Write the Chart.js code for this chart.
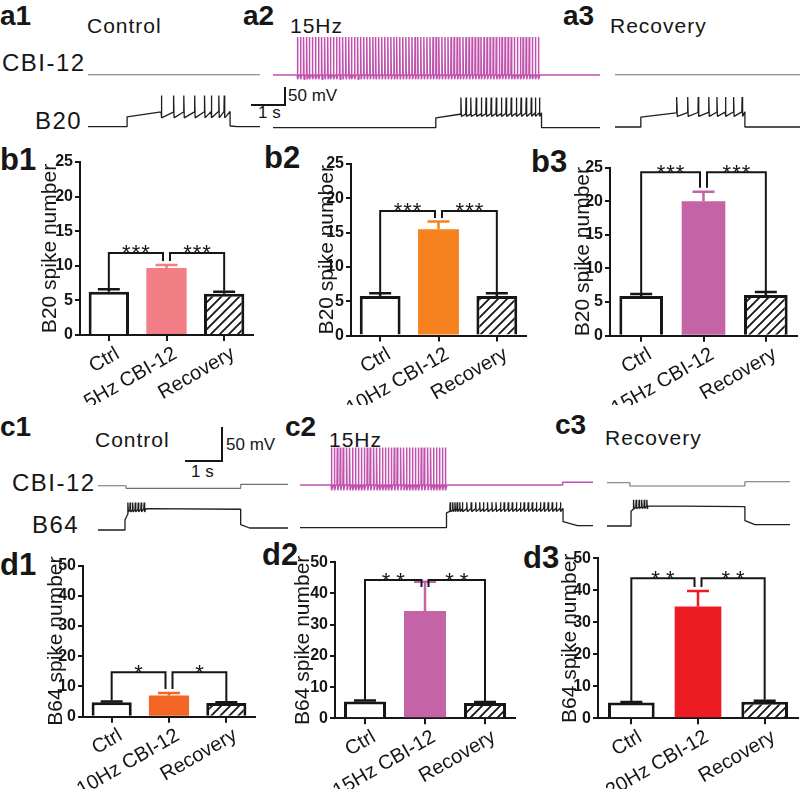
<!DOCTYPE html>
<html>
<head>
<meta charset="utf-8">
<script src="https://cdn.jsdelivr.net/npm/chart.js@4.4.1/dist/chart.umd.min.js"></script>
<style>
  html, body { margin: 0; padding: 0; background: #fff; }
  #fig { position: relative; width: 800px; height: 789px; overflow: hidden; background: #fff; }
  #fig canvas { position: absolute; }
  .t { position: absolute; font-family: 'Liberation Sans', Arial, sans-serif; line-height: 1; white-space: nowrap; color: #161616; }
  .pl { font-weight: bold; }
  .sb { position: absolute; background: #161616; }
</style>
</head>
<body>
<div id="fig">
  <!-- row a -->
  <div class="t pl" style="left:0;top:2px;font-size:28px">a1</div>
  <div class="t" style="left:87px;top:14.5px;font-size:21px;letter-spacing:1px">Control</div>
  <div class="t pl" style="left:243px;top:2px;font-size:28px">a2</div>
  <div class="t" style="left:290px;top:14.5px;font-size:21px;letter-spacing:1px">15Hz</div>
  <div class="t pl" style="left:563px;top:1.5px;font-size:28px">a3</div>
  <div class="t" style="left:610px;top:14.5px;font-size:21px;letter-spacing:1px">Recovery</div>
  <div class="t" style="left:2px;top:50.7px;font-size:24px;letter-spacing:1.5px">CBI-12</div>
  <div class="t" style="left:35px;top:109px;font-size:24px;letter-spacing:1.5px">B20</div>
  <div class="t" style="left:288px;top:87.3px;font-size:17px">50 mV</div>
  <div class="t" style="left:258px;top:103.6px;font-size:17px">1 s</div>
  <div class="sb" style="left:284px;top:87px;width:2px;height:19px"></div>
  <div class="sb" style="left:251px;top:104px;width:35px;height:2px"></div>

  <!-- row b -->
  <div class="t pl" style="left:0;top:143.8px;font-size:31px">b1</div>
  <div class="t pl" style="left:264px;top:142px;font-size:31px">b2</div>
  <div class="t pl" style="left:531px;top:145.5px;font-size:31px">b3</div>

  <!-- row c -->
  <div class="t pl" style="left:0;top:413px;font-size:28px">c1</div>
  <div class="t" style="left:95px;top:429px;font-size:21px;letter-spacing:1px">Control</div>
  <div class="t" style="left:226px;top:436.3px;font-size:17px">50 mV</div>
  <div class="t" style="left:191px;top:463.3px;font-size:17px">1 s</div>
  <div class="sb" style="left:221px;top:427px;width:2px;height:35px"></div>
  <div class="sb" style="left:185px;top:460px;width:38px;height:2px"></div>
  <div class="t pl" style="left:285px;top:413px;font-size:28px">c2</div>
  <div class="t" style="left:329px;top:429px;font-size:21px;letter-spacing:1px">15Hz</div>
  <div class="t pl" style="left:555px;top:411.3px;font-size:28px">c3</div>
  <div class="t" style="left:605px;top:427px;font-size:21px;letter-spacing:1px">Recovery</div>
  <div class="t" style="left:12px;top:471.4px;font-size:24px;letter-spacing:1.5px">CBI-12</div>
  <div class="t" style="left:32px;top:513px;font-size:24px;letter-spacing:1.5px">B64</div>

  <!-- row d -->
  <div class="t pl" style="left:0;top:548.8px;font-size:31px">d1</div>
  <div class="t pl" style="left:262px;top:538.8px;font-size:31px">d2</div>
  <div class="t pl" style="left:523px;top:541.8px;font-size:31px">d3</div>
</div>

<script>
  const INK = '#161616';
  const REST = -60;

  // ---------- bar data (spike numbers, mean and upper SEM) ----------
  const labelsB1 = ['Ctrl', '5Hz CBI-12', 'Recovery'];
  const meanB1 = [6.25, 9.7, 5.95];
  const semB1 = [0.35, 0.4, 0.3];
  const labelsB2 = ['Ctrl', '10Hz CBI-12', 'Recovery'];
  const meanB2 = [5.75, 15.5, 5.75];
  const semB2 = [0.4, 1.1, 0.4];
  const labelsB3 = ['Ctrl', '15Hz CBI-12', 'Recovery'];
  const meanB3 = [5.9, 20.0, 6.05];
  const semB3 = [0.3, 1.4, 0.45];
  const labelsD1 = ['Ctrl', '10Hz CBI-12', 'Recovery'];
  const meanD1 = [4.8, 7.0, 4.5];
  const semD1 = [0.2, 0.8, 0.3];
  const labelsD2 = ['Ctrl', '15Hz CBI-12', 'Recovery'];
  const meanD2 = [5.4, 34.4, 4.9];
  const semD2 = [0.3, 9.4, 0.3];
  const labelsD3 = ['Ctrl', '20Hz CBI-12', 'Recovery'];
  const meanD3 = [4.9, 34.9, 5.2];
  const semD3 = [0.2, 4.9, 0.3];

  const ticksB = [0, 5, 10, 15, 20, 25];
  const ticksD = [0, 10, 20, 30, 40, 50];
  // significance bracket heights (axis units) and marks
  const bracketLevels = [11.85, 18.15, 24.3, 14.7, 44.3, 43.8];
  const bracketStars = ['***', '***', '***', '*', '**', '**'];

  // ---------- trace data: subthreshold outline [s, mV] and spike times [s] ----------
  const cbiShapeA1 = [[0, -60], [5.06, -60]];
  const b20ShapeA1 = [[0, -60], [1.15, -60], [1.15, -32], [2.1, -19], [4.18, -17], [4.18, -58], [4.4, -60], [5.06, -60]];
  const b20SpikesA1 = [2.15, 2.51, 2.81, 3.13, 3.42, 3.62, 3.84, 4.00];

  const cbiShapeA2 = [[0, -60], [9.62, -60]];
  const cbiTrainA2 = [0.71, 0.80, 0.89, 0.98, 1.06, 1.15, 1.24, 1.33, 1.42, 1.51, 1.60, 1.68, 1.77, 1.86, 1.95,
    2.04, 2.13, 2.22, 2.30, 2.39, 2.48, 2.57, 2.66, 2.75, 2.84, 2.93, 3.01, 3.10, 3.19, 3.28, 3.37, 3.46, 3.55,
    3.63, 3.72, 3.81, 3.90, 3.99, 4.08, 4.17, 4.25, 4.34, 4.43, 4.52, 4.61, 4.70, 4.79, 4.87, 4.96, 5.05, 5.14,
    5.23, 5.32, 5.41, 5.49, 5.58, 5.67, 5.76, 5.85, 5.94, 6.03, 6.11, 6.20, 6.29, 6.38, 6.47, 6.56, 6.65, 6.73,
    6.82, 6.91, 7.00, 7.09, 7.18, 7.27, 7.35, 7.44, 7.53, 7.62, 7.71, 7.80];
  const b20ShapeA2 = [[0, -60], [4.79, -60], [4.79, -32], [5.5, -22], [7.9, -18], [7.9, -60], [9.62, -60]];
  const b20SpikesA2 = [5.52, 5.67, 5.81, 5.97, 6.12, 6.26, 6.41, 6.56, 6.71, 6.85, 7.00, 7.15, 7.29, 7.44, 7.59, 7.71, 7.83];

  const cbiShapeA3 = [[0, -60], [5.44, -60]];
  const b20ShapeA3 = [[0, -60], [0.76, -60], [0.76, -32], [1.8, -20], [3.82, -17], [3.82, -60], [5.44, -60]];
  const b20SpikesA3 = [1.81, 2.13, 2.44, 2.75, 2.99, 3.24, 3.48, 3.73];

  const cbiShapeC1 = [[0, -60], [0.76, -60], [0.76, -64], [3.86, -64], [3.86, -58], [5.14, -58]];
  const b64ShapeC1 = [[0, -60], [0.73, -60], [0.73, -45], [0.85, -31], [1.3, -28], [3.86, -29], [3.86, -52], [4.1, -57], [5.14, -57]];
  const b64SpikesC1 = [0.80, 0.86, 0.93, 1.00, 1.08, 1.16, 1.24];

  const cbiShapeC2 = [[0, -60], [7.1, -60], [7.1, -56], [7.92, -56]];
  const cbiTrainC2 = [0.84, 0.92, 1.00, 1.08, 1.16, 1.25, 1.33, 1.41, 1.49, 1.57, 1.65, 1.73, 1.81, 1.89, 1.98,
    2.06, 2.14, 2.22, 2.30, 2.38, 2.46, 2.54, 2.62, 2.71, 2.79, 2.87, 2.95, 3.03, 3.11, 3.19, 3.27, 3.35, 3.44,
    3.52, 3.60, 3.68, 3.76, 3.84, 3.92];
  const b64ShapeC2 = [[0, -60], [3.96, -60], [3.96, -38], [4.2, -32], [7.11, -31], [7.11, -51], [7.5, -57], [7.92, -57]];
  const b64SpikesC2 = [4.05, 4.12, 4.18, 4.24, 4.31, 4.38, 4.50, 4.62, 4.74, 4.85, 4.95, 5.06, 5.18, 5.29, 5.41,
    5.51, 5.62, 5.73, 5.84, 5.95, 6.05, 6.16, 6.27, 6.38, 6.49, 6.59, 6.70, 6.81, 6.92, 7.03];

  const cbiShapeC3 = [[0, -60], [0.62, -60], [0.62, -65], [3.73, -65], [3.73, -58.5], [4.95, -58.5]];
  const b64ShapeC3 = [[0, -60], [0.65, -60], [0.65, -38], [0.75, -33], [1.1, -30], [3.73, -31], [3.73, -52], [4.0, -58], [4.95, -58]];
  const b64SpikesC3 = [0.71, 0.78, 0.86, 0.93, 1.00, 1.07];

  // spike peak / after-hyperpolarisation trough, mV
  const b20Spike = [[28, -35], [25, -28], [25, -30]];
  const b64Spike = [[-19, -33], [-22, -36], [-21, -34]];
  const cbiSpikeA = [47, -72];
  const cbiSpikeC = [-4, -68];

  Chart.defaults.font.family = "'Liberation Sans', Arial, sans-serif";
  Chart.defaults.color = INK;

  const fig = document.getElementById('fig');
  function addCanvas(left, top, w, h) {
    const c = document.createElement('canvas');
    c.width = w; c.height = h;
    c.style.left = left + 'px'; c.style.top = top + 'px';
    c.style.width = w + 'px'; c.style.height = h + 'px';
    fig.appendChild(c);
    return c;
  }

  // diagonal hatch for the Recovery bars
  const hatch = (() => {
    const s = 9;
    const pc = document.createElement('canvas');
    pc.width = s; pc.height = s;
    const g = pc.getContext('2d');
    g.fillStyle = '#fff';
    g.fillRect(0, 0, s, s);
    g.strokeStyle = INK;
    g.lineWidth = 1.8;
    g.beginPath();
    g.moveTo(0, s); g.lineTo(s, 0);
    g.moveTo(-2, 2); g.lineTo(2, -2);
    g.moveTo(s - 2, s + 2); g.lineTo(s + 2, s - 2);
    g.stroke();
    return pc.getContext('2d').createPattern(pc, 'repeat');
  })();

  const errorBars = {
    id: 'errorBars',
    afterDatasetsDraw(chart) {
      const ctx = chart.ctx;
      const ds = chart.data.datasets[0];
      const y = chart.scales.y;
      chart.getDatasetMeta(0).data.forEach((bar, i) => {
        const top = y.getPixelForValue(ds.data[i] + ds.sem[i]);
        ctx.save();
        ctx.strokeStyle = ds.errColor[i];
        ctx.lineWidth = 2.5;
        ctx.beginPath();
        ctx.moveTo(bar.x, bar.y);
        ctx.lineTo(bar.x, top);
        ctx.moveTo(bar.x - 11, top);
        ctx.lineTo(bar.x + 11, top);
        ctx.stroke();
        ctx.restore();
      });
    }
  };

  const sigBrackets = {
    id: 'sigBrackets',
    afterDatasetsDraw(chart) {
      const ctx = chart.ctx;
      const ds = chart.data.datasets[0];
      const y = chart.scales.y;
      const xs = chart.getDatasetMeta(0).data.map(b => b.x);
      const tops = ds.data.map((v, i) => y.getPixelForValue(v + ds.sem[i]));
      const yl = y.getPixelForValue(ds.sig.level);
      const gap = 3.5;
      const midEnd = Math.max(tops[1] - 4, yl + 7);
      ctx.save();
      ctx.strokeStyle = INK;
      ctx.lineWidth = 2;
      ctx.beginPath();
      ctx.moveTo(xs[0], tops[0] - 1);
      ctx.lineTo(xs[0], yl);
      ctx.lineTo(xs[1] - gap, yl);
      ctx.lineTo(xs[1] - gap, midEnd);
      ctx.moveTo(xs[1] + gap, midEnd);
      ctx.lineTo(xs[1] + gap, yl);
      ctx.lineTo(xs[2], yl);
      ctx.lineTo(xs[2], tops[2] - 1);
      ctx.stroke();
      ctx.fillStyle = INK;
      ctx.font = "22px 'Liberation Sans', Arial, sans-serif";
      ctx.letterSpacing = ds.sig.spacing + 'px';
      ctx.textAlign = 'center';
      ctx.textBaseline = 'alphabetic';
      ctx.fillText(ds.sig.stars, (xs[0] + xs[1] - gap) / 2 + ds.sig.spacing / 2, yl + 7.5);
      ctx.fillText(ds.sig.stars, (xs[1] + gap + xs[2]) / 2 + ds.sig.spacing / 2, yl + 7.5);
      ctx.restore();
    }
  };

  function makeBars(p) {
    const cv = addCanvas(p.left, p.top, p.w, p.h);
    const yWidth = p.axisX - p.titleX + 12;
    new Chart(cv, {
      type: 'bar',
      data: {
        labels: p.labels,
        datasets: [{
          data: p.means,
          sem: p.sems,
          sig: { level: p.level, stars: p.stars, spacing: p.spacing },
          backgroundColor: ['#ffffff', p.color, hatch],
          borderColor: [INK, p.color, INK],
          errColor: [INK, p.color, INK],
          borderWidth: [3, 0, 3],
          barPercentage: 0.7,
          categoryPercentage: 1
        }]
      },
      options: {
        responsive: false,
        animation: false,
        devicePixelRatio: 1,
        events: [],
        layout: {
          padding: {
            top: p.yTop - p.top,
            left: p.titleX - 12 - p.left,
            right: p.left + p.w - p.axisRight,
            bottom: 0
          }
        },
        plugins: { legend: { display: false }, tooltip: { enabled: false } },
        scales: {
          x: {
            grid: { display: true, drawOnChartArea: false, offset: false, color: INK, lineWidth: 2, tickLength: 6 },
            border: { color: INK, width: 2 },
            ticks: { color: INK, font: { size: 20 }, minRotation: 30, maxRotation: 30, autoSkip: false, padding: 1, labelOffset: 9 },
            afterFit: s => { s.height = p.h - (p.yBottom - p.top); }
          },
          y: {
            min: p.ticks[0],
            max: p.ticks[p.ticks.length - 1],
            grid: { display: true, drawOnChartArea: false, color: INK, lineWidth: 2, tickLength: 5 },
            border: { color: INK, width: 2 },
            ticks: { stepSize: p.ticks[1] - p.ticks[0], color: INK, padding: 2, font: { size: 16, weight: 'bold' } },
            title: { display: true, text: p.title, color: INK, font: { size: 21 }, padding: { top: 0, bottom: 0 } },
            afterFit: s => { s.width = yWidth; }
          }
        }
      },
      plugins: [errorBars, sigBrackets]
    });
  }

  makeBars({ left: 0, top: 140, w: 265, h: 265, axisX: 80, axisRight: 253, yTop: 162, yBottom: 335, titleX: 50,
    labels: labelsB1, means: meanB1, sems: semB1, color: '#f27f86', ticks: ticksB, title: 'B20 spike number',
    level: bracketLevels[0], stars: bracketStars[0], spacing: 1 });
  makeBars({ left: 270, top: 140, w: 265, h: 265, axisX: 351, axisRight: 526, yTop: 164, yBottom: 335.5, titleX: 327,
    labels: labelsB2, means: meanB2, sems: semB2, color: '#f5821f', ticks: ticksB, title: 'B20 spike number',
    level: bracketLevels[1], stars: bracketStars[1], spacing: 1 });
  makeBars({ left: 530, top: 140, w: 270, h: 265, axisX: 610, axisRight: 797, yTop: 167.5, yBottom: 335.7, titleX: 583,
    labels: labelsB3, means: meanB3, sems: semB3, color: '#c463a5', ticks: ticksB, title: 'B20 spike number',
    level: bracketLevels[2], stars: bracketStars[2], spacing: 1 });
  makeBars({ left: 0, top: 540, w: 265, h: 249, axisX: 83, axisRight: 255, yTop: 565.5, yBottom: 716.7, titleX: 56,
    labels: labelsD1, means: meanD1, sems: semD1, color: '#f26522', ticks: ticksD, title: 'B64 spike number',
    level: bracketLevels[3], stars: bracketStars[3], spacing: 6 });
  makeBars({ left: 270, top: 540, w: 265, h: 249, axisX: 335, axisRight: 515, yTop: 562.3, yBottom: 718.3, titleX: 303,
    labels: labelsD2, means: meanD2, sems: semD2, color: '#c463a5', ticks: ticksD, title: 'B64 spike number',
    level: bracketLevels[4], stars: bracketStars[4], spacing: 6 });
  makeBars({ left: 530, top: 540, w: 270, h: 249, axisX: 598, axisRight: 798, yTop: 558.3, yBottom: 718.3, titleX: 570,
    labels: labelsD3, means: meanD3, sems: semD3, color: '#ed1c24', ticks: ticksD, title: 'B64 spike number',
    level: bracketLevels[5], stars: bracketStars[5], spacing: 6 });

  // ---------- traces ----------
  function interp(shape, t) {
    for (let i = 0; i < shape.length - 1; i++) {
      const [t0, v0] = shape[i], [t1, v1] = shape[i + 1];
      if (t >= t0 && t <= t1) return t1 === t0 ? v1 : v0 + (v1 - v0) * (t - t0) / (t1 - t0);
    }
    return shape[shape.length - 1][1];
  }
  // recover: seconds to return to the outline after a spike (null = ramp to the next point)
  function buildTrace(shape, spikes, peak, trough, recover) {
    const pts = shape.map(([x, y]) => ({ x, y }));
    spikes.forEach(t => {
      const base = interp(shape, t);
      pts.push({ x: t, y: base }, { x: t + 0.008, y: peak }, { x: t + 0.022, y: trough });
      if (recover) pts.push({ x: t + recover, y: interp(shape, t + recover) });
    });
    return pts.sort((a, b) => a.x - b.x);
  }
  function traceRange(basePx, h, mvPx) {
    return { min: REST - (h - basePx) * mvPx, max: REST + basePx * mvPx };
  }

  function makeTrace(p) {
    const w = Math.round(p.dur * p.pxPerS);
    const cv = addCanvas(p.left, p.top, w, p.h);
    const lineStyle = { pointRadius: 0, tension: 0, fill: false, borderJoinStyle: 'bevel' };
    new Chart(cv, {
      type: 'line',
      data: {
        datasets: [
          Object.assign({ data: p.cbi, yAxisID: 'yc', borderColor: p.cbiColor, borderWidth: p.cbiWidth }, lineStyle),
          Object.assign({ data: p.cell, yAxisID: 'yb', borderColor: '#1e1e1e', borderWidth: 1.3 }, lineStyle)
        ]
      },
      options: {
        responsive: false,
        animation: false,
        devicePixelRatio: 1,
        events: [],
        layout: { padding: 0 },
        plugins: { legend: { display: false }, tooltip: { enabled: false } },
        scales: {
          x: { type: 'linear', display: false, min: 0, max: p.dur },
          yc: Object.assign({ type: 'linear', display: false }, traceRange(p.cbiBase - p.top, p.h, p.mvPx)),
          yb: Object.assign({ type: 'linear', display: false }, traceRange(p.cellBase - p.top, p.h, p.mvPx))
        }
      }
    });
  }

  const GREY = '#707070', PINK = '#c052ae';
  const mvA = 50 / 17.7, mvC = 50 / 33.5;

  makeTrace({ left: 88, top: 30, h: 110, dur: 5.06, pxPerS: 34, mvPx: mvA, cbiBase: 74.7, cellBase: 126.7, cbiColor: GREY, cbiWidth: 1.1,
    cbi: buildTrace(cbiShapeA1, [], 0, 0),
    cell: buildTrace(b20ShapeA1, b20SpikesA1, b20Spike[0][0], b20Spike[0][1]) });
  makeTrace({ left: 273, top: 30, h: 110, dur: 9.62, pxPerS: 34, mvPx: mvA, cbiBase: 75, cellBase: 127.7, cbiColor: PINK, cbiWidth: 1.5,
    cbi: buildTrace(cbiShapeA2, cbiTrainA2, cbiSpikeA[0], cbiSpikeA[1], 0.05),
    cell: buildTrace(b20ShapeA2, b20SpikesA2, b20Spike[1][0], b20Spike[1][1]) });
  makeTrace({ left: 615, top: 30, h: 110, dur: 5.44, pxPerS: 34, mvPx: mvA, cbiBase: 74.7, cellBase: 127, cbiColor: GREY, cbiWidth: 1.1,
    cbi: buildTrace(cbiShapeA3, [], 0, 0),
    cell: buildTrace(b20ShapeA3, b20SpikesA3, b20Spike[2][0], b20Spike[2][1]) });

  makeTrace({ left: 98, top: 440, h: 100, dur: 5.14, pxPerS: 37, mvPx: mvC, cbiBase: 485.7, cellBase: 530, cbiColor: GREY, cbiWidth: 1.1,
    cbi: buildTrace(cbiShapeC1, [], 0, 0),
    cell: buildTrace(b64ShapeC1, b64SpikesC1, b64Spike[0][0], b64Spike[0][1]) });
  makeTrace({ left: 300, top: 440, h: 100, dur: 7.92, pxPerS: 37, mvPx: mvC, cbiBase: 485, cellBase: 527.7, cbiColor: PINK, cbiWidth: 1.5,
    cbi: buildTrace(cbiShapeC2, cbiTrainC2, cbiSpikeC[0], cbiSpikeC[1], 0.05),
    cell: buildTrace(b64ShapeC2, b64SpikesC2, b64Spike[1][0], b64Spike[1][1]) });
  makeTrace({ left: 607, top: 440, h: 100, dur: 4.95, pxPerS: 37, mvPx: mvC, cbiBase: 482.7, cellBase: 526, cbiColor: GREY, cbiWidth: 1.1,
    cbi: buildTrace(cbiShapeC3, [], 0, 0),
    cell: buildTrace(b64ShapeC3, b64SpikesC3, b64Spike[2][0], b64Spike[2][1]) });
</script>
</body>
</html>
